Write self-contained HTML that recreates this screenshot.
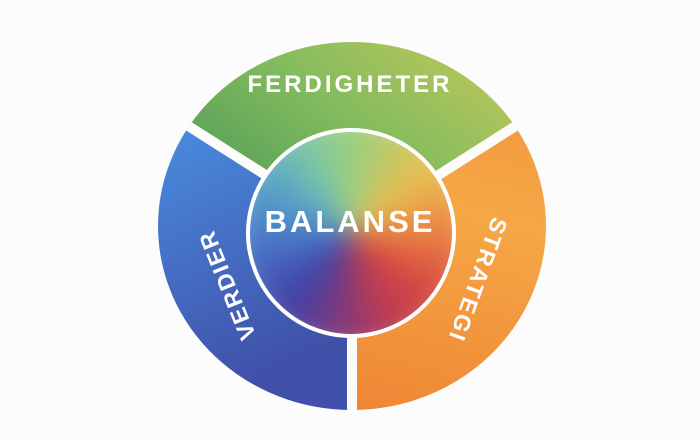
<!DOCTYPE html>
<html><head><style>
html,body{margin:0;padding:0;background:#fcfcfc;width:700px;height:440px;overflow:hidden;font-family:"Liberation Sans",sans-serif}
.inner{position:absolute;left:246px;top:128px;width:210px;height:210px;border-radius:50%;overflow:hidden;box-sizing:border-box;border:4px solid #fff;background:#fff}
.cg{position:absolute;left:-20px;top:-20px;width:242px;height:242px;border-radius:50%;
background:conic-gradient(from 0deg,#98d080,#e8c050 50deg,#ec8a45 85deg,#d84a40 125deg,#b83a55 160deg,#7a3a80 190deg,#4040a5 220deg,#4a78c8 265deg,#5aa8c8 305deg,#80c8a0 335deg,#98d080);filter:blur(14px)}
.t{position:absolute;color:#fff;font-weight:bold;white-space:nowrap;transform-origin:center;text-align:center}
</style></head><body>
<svg width="700" height="440" style="position:absolute;left:0;top:0">
<defs>
<linearGradient id="g" x1="0" y1="0.7" x2="1" y2="0.3"><stop offset="0" stop-color="#2c8454"/><stop offset="0.5" stop-color="#84bc5e"/><stop offset="1" stop-color="#f0d058"/></linearGradient>
<linearGradient id="b" x1="0" y1="0" x2="0.4" y2="1"><stop offset="0" stop-color="#3f7cd0"/><stop offset="0.4" stop-color="#4a8ee0"/><stop offset="1" stop-color="#4050a8"/></linearGradient>
<linearGradient id="o" x1="0.5" y1="0" x2="0.3" y2="1"><stop offset="0" stop-color="#ee8a3a"/><stop offset="0.5" stop-color="#f5a845"/><stop offset="1" stop-color="#ef8535"/></linearGradient>
<clipPath id="c"><ellipse cx="352" cy="226" rx="194" ry="184"/></clipPath>
</defs>
<g clip-path="url(#c)">
<polygon points="352,230 -20,0 720,0" fill="url(#g)"/>
<polygon points="352,230 -20,0 -20,440 352,440" fill="url(#b)"/>
<polygon points="352,230 720,0 720,440 352,440" fill="url(#o)"/>
<g stroke="#fcfcfc" stroke-width="10">
<line x1="352" y1="230" x2="352" y2="440"/>
<line x1="352" y1="230" x2="160" y2="108"/>
<line x1="352" y1="230" x2="544" y2="108"/>
</g>
</g>
</svg>
<div class="inner"><div class="cg"></div></div>
<div class="t" style="left:230px;top:71px;width:240px;font-size:24px;letter-spacing:3px">FERDIGHETER</div>
<div class="t" style="left:250px;top:204px;width:200px;font-size:31px;letter-spacing:3px">BALANSE</div>
<div class="t" style="left:157px;top:271px;width:140px;height:28px;line-height:28px;font-size:23px;letter-spacing:2px;transform:rotate(-112deg)">VERDIER</div>
<div class="t" style="left:403px;top:266px;width:150px;height:28px;line-height:28px;font-size:23px;letter-spacing:2px;transform:rotate(110deg)">STRATEGI</div>
</body></html>
